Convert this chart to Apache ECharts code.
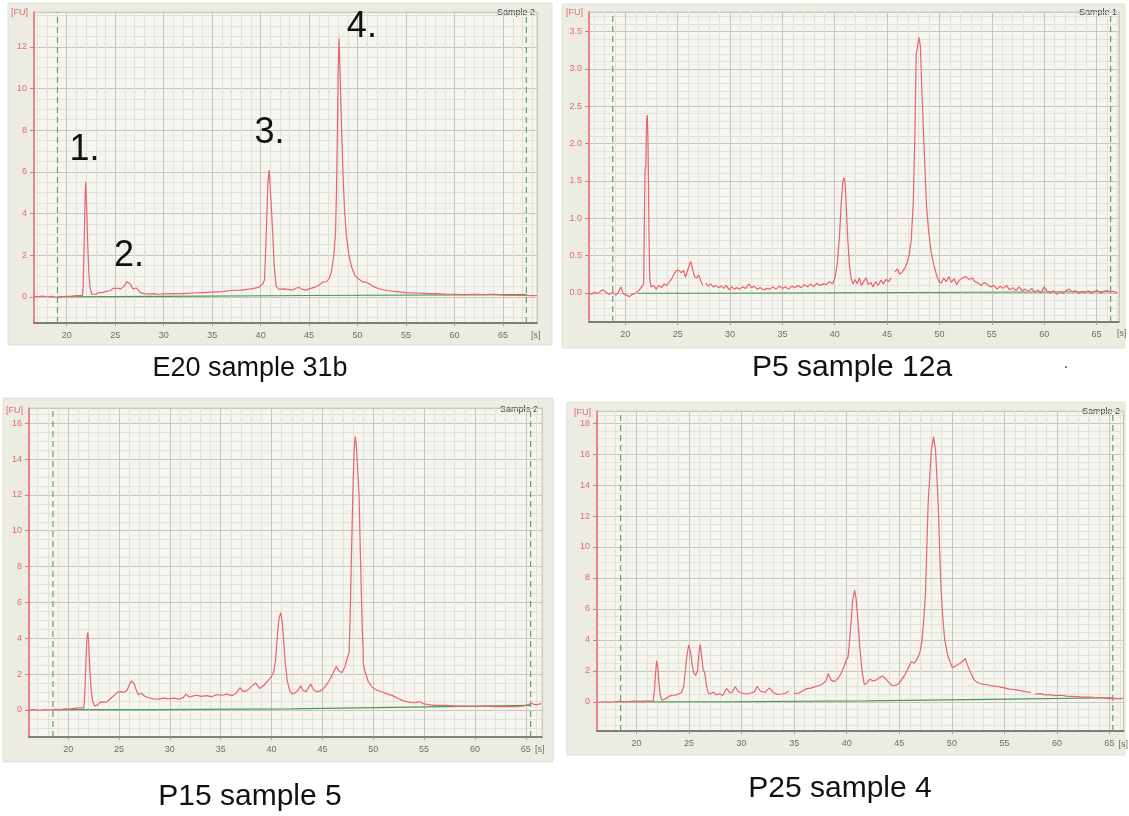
<!DOCTYPE html>
<html>
<head>
<meta charset="utf-8">
<title>Electropherograms</title>
<script src="https://cdn.jsdelivr.net/npm/echarts@6/dist/echarts.min.js"></script>
<style>
html, body { margin: 0; padding: 0; background: #fff; }
#main { width: 1129px; height: 816px; }
</style>
</head>
<body>
<div id="main"></div>
<script>
// ---- values: [time s, FU] ----
var e20Trace = [
  [16.6,0.02],[17.0,0.0],[17.5,0.03],[18.0,0.0],[18.5,0.02],[19.0,-0.03],[19.5,0.0],[20.0,0.02],[20.5,0.03],[21.0,0.05],[21.4,0.05],
  [21.62,0.05],[21.7,0.5],[21.8,2.5],[21.9,4.8],[21.96,5.52],[22.05,4.5],[22.15,2.8],[22.28,1.2],[22.42,0.4],[22.6,0.12],[22.8,0.05],
  [23.0,0.12],[23.3,0.2],[23.7,0.2],[24.0,0.25],[24.5,0.3],[24.8,0.4],[25.0,0.45],[25.3,0.4],[25.6,0.38],[25.9,0.5],[26.2,0.72],
  [26.4,0.75],[26.6,0.6],[26.8,0.38],[27.0,0.35],[27.2,0.42],[27.4,0.3],[27.6,0.2],[28.0,0.15],[28.5,0.13],[29.0,0.15],[29.5,0.12],
  [30.0,0.14],[31.0,0.15],[32.0,0.15],[33.0,0.18],[34.0,0.2],[35.0,0.22],[36.0,0.25],[37.0,0.3],[38.0,0.32],[39.0,0.38],[39.8,0.45],
  [40.2,0.6],[40.4,0.8],[40.58,3.0],[40.75,5.5],[40.88,6.08],[41.05,4.8],[41.25,3.0],[41.4,1.5],[41.6,0.5],[41.9,0.35],[42.3,0.38],
  [42.8,0.35],[43.3,0.32],[43.7,0.42],[44.0,0.45],[44.3,0.35],[44.7,0.32],[45.0,0.38],[45.5,0.45],[46.0,0.55],[46.4,0.7],[46.8,0.72],
  [47.1,0.9],[47.3,1.2],[47.55,2.0],[47.72,3.0],[47.82,5.0],[47.92,8.0],[48.0,11.0],[48.09,12.4],[48.18,11.0],[48.35,8.0],[48.5,5.8],
  [48.65,4.2],[48.83,3.0],[49.1,2.0],[49.4,1.4],[49.75,1.0],[50.1,0.85],[50.6,0.7],[50.9,0.7],[51.2,0.62],[51.6,0.5],[52.0,0.42],
  [52.5,0.35],[53.0,0.3],[54.0,0.25],[55.0,0.2],[56.0,0.18],[57.0,0.16],[58.0,0.15],[59.0,0.13],[60.0,0.12],[61.0,0.1],[62.0,0.12],
  [63.0,0.1],[64.0,0.12],[64.5,0.1],[65.0,0.08],[66.0,0.06],[67.0,0.07],[68.0,0.05],[68.5,0.06]
];
var e20Base = [[19.05,0.0],[30.0,0.02],[45.0,0.06],[67.4,0.1]];
var e20Window = [19.05, 67.4];
var e20Peaks = [['1.',21.84,7.04],['2.',26.42,1.93],['3.',40.92,7.84],['4.',50.44,12.96]];

var p5Trace = [
  [16.55,0.0],[16.8,-0.02],[17.0,0.01],[17.3,-0.01],[17.6,0.02],[17.9,0.04],[18.2,0.0],[18.5,-0.02],[18.8,0.01],[19.1,-0.03],[19.3,0.0],
  [19.58,0.08],[19.8,-0.01],[20.1,-0.03],[20.4,-0.05],[20.7,-0.02],[21.0,0.0],[21.3,0.03],[21.55,0.08],[21.75,0.12],[21.82,1.0],
  [21.88,1.65],[21.96,1.7],[22.03,2.3],[22.1,2.38],[22.17,2.0],[22.25,0.9],[22.33,0.2],[22.45,0.08],[22.7,0.1],[22.95,0.05],[23.2,0.1],
  [23.45,0.07],[23.7,0.12],[23.95,0.1],[24.16,0.14],[24.4,0.18],[24.65,0.25],[24.9,0.3],[25.1,0.3],[25.35,0.27],[25.55,0.3],[25.75,0.21],
  [25.95,0.3],[26.24,0.42],[26.45,0.3],[26.6,0.22],[26.8,0.2],[27.0,0.24],[27.2,0.16],[27.4,0.1],[27.55,'-'],[27.7,0.13],[27.9,0.09],
  [28.15,0.12],[28.4,0.08],[28.65,0.1],[28.9,0.07],[29.15,0.09],[29.4,0.06],[29.65,0.1],[29.9,0.04],[30.15,0.08],[30.4,0.05],[30.65,0.07],
  [30.9,0.05],[31.2,0.08],[31.5,0.06],[31.8,0.12],[32.05,0.07],[32.3,0.09],[32.6,0.05],[32.9,0.07],[33.2,0.04],[33.5,0.06],[33.8,0.05],
  [34.1,0.08],[34.4,0.05],[34.7,0.09],[35.0,0.06],[35.3,0.08],[35.6,0.05],[35.9,0.09],[36.2,0.07],[36.5,0.1],[36.8,0.07],[37.1,0.11],
  [37.4,0.08],[37.7,0.12],[38.0,0.08],[38.3,0.13],[38.6,0.1],[38.9,0.12],[39.2,0.11],[39.5,0.15],[39.8,0.12],[40.05,0.22],[40.25,0.4],
  [40.45,0.75],[40.62,1.2],[40.78,1.5],[40.9,1.54],[41.0,1.45],[41.12,1.1],[41.25,0.7],[41.4,0.38],[41.55,0.2],[41.75,0.12],[41.95,0.18],
  [42.15,0.12],[42.35,0.2],[42.55,0.1],[42.8,0.16],[43.0,0.2],[43.2,0.11],[43.45,0.14],[43.65,0.08],[43.9,0.15],[44.15,0.1],[44.4,0.17],
  [44.65,0.12],[44.9,0.18],[45.15,0.15],[45.4,0.2],[45.6,'-'],[45.75,0.28],[46.0,0.32],[46.2,0.25],[46.45,0.28],[46.7,0.33],[46.9,0.4],
  [47.1,0.5],[47.3,0.7],[47.5,1.2],[47.65,2.1],[47.78,3.2],[47.92,3.2],[48.05,3.42],[48.18,3.3],[48.35,2.6],[48.55,1.9],[48.75,1.2],
  [48.95,0.85],[49.2,0.55],[49.45,0.38],[49.7,0.25],[49.95,0.15],[50.17,0.13],[50.4,0.2],[50.65,0.15],[50.9,0.22],[51.15,0.14],[51.4,0.19],
  [51.65,0.11],[51.9,0.17],[52.2,0.2],[52.5,0.22],[52.8,0.18],[53.1,0.2],[53.4,0.15],[53.7,0.13],[54.0,0.1],[54.3,0.14],[54.6,0.11],
  [54.9,0.08],[55.2,0.1],[55.5,0.05],[55.8,0.09],[56.1,0.06],[56.4,0.1],[56.7,0.04],[57.0,0.07],[57.3,0.03],[57.6,0.08],[57.9,0.03],
  [58.2,0.05],[58.5,0.02],[58.8,0.06],[59.1,0.01],[59.4,0.04],[59.7,0.0],[60.0,0.08],[60.3,0.02],[60.6,0.0],[60.9,0.03],[61.2,-0.02],
  [61.5,0.02],[61.8,-0.01],[62.1,0.03],[62.4,0.05],[62.7,0.01],[63.0,0.03],[63.3,-0.01],[63.6,0.02],[63.9,0.0],[64.2,0.03],[64.5,-0.01],
  [64.8,0.02],[65.1,0.03],[65.4,0.0],[65.7,0.02],[66.0,0.03],[66.3,0.01],[66.6,0.02],[67.0,0.0]
];
var p5Base = [[21.2,-0.005],[26.7,-0.005],[26.7,0.015],[66.35,0.015]];
var p5Window = [18.8, 66.35];

var p15Trace = [
  [16.2,0.0],[16.7,0.02],[17.2,-0.02],[17.7,0.02],[18.2,0.0],[18.7,0.03],[19.2,0.02],[19.7,0.06],[20.2,0.05],[20.7,0.1],[21.2,0.12],
  [21.55,0.12],[21.65,1.0],[21.75,2.8],[21.85,4.0],[21.93,4.32],[22.02,3.8],[22.12,2.4],[22.25,1.2],[22.4,0.5],[22.6,0.22],[22.9,0.28],
  [23.2,0.45],[23.5,0.42],[23.8,0.45],[24.1,0.6],[24.5,0.8],[24.9,1.0],[25.2,1.02],[25.5,0.98],[25.8,1.1],[26.0,1.4],[26.2,1.62],
  [26.35,1.7],[26.5,1.45],[26.7,1.1],[26.9,0.85],[27.2,0.93],[27.5,0.78],[27.9,0.68],[28.4,0.62],[28.9,0.6],[29.4,0.66],[29.9,0.62],
  [30.4,0.66],[30.9,0.6],[31.3,0.68],[31.6,0.88],[31.9,0.72],[32.3,0.78],[32.7,0.82],[33.1,0.76],[33.6,0.8],[34.1,0.74],[34.6,0.86],
  [35.1,0.82],[35.6,0.88],[36.1,0.8],[36.5,0.92],[36.9,1.25],[37.2,1.02],[37.6,1.08],[38.0,1.3],[38.45,1.5],[38.8,1.2],[39.2,1.35],
  [39.6,1.6],[39.9,1.8],[40.2,2.1],[40.4,2.8],[40.55,4.0],[40.72,5.1],[40.9,5.43],[41.05,4.9],[41.2,3.8],[41.35,2.6],[41.55,1.6],
  [41.8,1.05],[42.0,0.9],[42.3,0.95],[42.6,1.1],[42.85,1.34],[43.1,1.1],[43.4,1.02],[43.84,1.45],[44.1,1.15],[44.4,1.02],[44.7,1.05],
  [45.0,1.12],[45.4,1.4],[45.7,1.67],[46.0,2.0],[46.37,2.42],[46.6,2.2],[46.9,2.08],[47.2,2.4],[47.45,2.9],[47.62,3.2],[47.72,5.0],
  [47.85,8.5],[48.0,12.3],[48.12,14.5],[48.23,15.25],[48.35,14.7],[48.48,13.2],[48.6,12.0],[48.72,9.0],[48.83,6.5],[48.92,4.5],
  [49.0,3.3],[49.02,2.6],[49.2,2.1],[49.5,1.6],[49.9,1.25],[50.4,1.1],[50.9,1.0],[51.4,0.88],[51.9,0.8],[52.4,0.65],[52.9,0.52],
  [53.4,0.45],[53.9,0.4],[54.3,0.42],[54.6,0.47],[54.9,0.35],[55.4,0.3],[56.0,0.26],[57.0,0.25],[58.0,0.23],[59.0,0.22],[60.0,0.2],
  [61.0,0.21],[62.0,0.19],[63.0,0.2],[64.0,0.18],[64.8,0.22],[65.2,0.3],[65.6,0.36],[66.0,0.28],[66.5,0.35]
];
var p15Base = [[18.5,0.02],[28.4,0.02],[28.5,0.06],[41.9,0.06],[42.0,0.17],[55.3,0.17],[55.4,0.26],[65.47,0.26]];
var p15Window = [18.5, 65.47];

var p25Trace = [
  [16.25,-0.05],[16.8,0.0],[17.3,-0.02],[17.8,0.0],[18.3,0.02],[18.8,0.0],[19.3,0.02],[19.8,0.05],[20.3,0.03],[20.8,0.05],[21.3,0.04],
  [21.6,0.06],[21.72,0.8],[21.82,1.8],[21.92,2.65],[22.02,2.3],[22.12,1.4],[22.25,0.5],[22.4,0.1],[22.57,0.0],[22.8,0.2],[23.1,0.35],
  [23.4,0.42],[23.7,0.43],[24.0,0.5],[24.3,0.6],[24.5,1.0],[24.65,2.0],[24.8,3.0],[24.97,3.66],[25.12,3.3],[25.3,2.4],[25.45,1.9],
  [25.62,1.7],[25.8,1.95],[25.95,3.2],[26.07,3.7],[26.2,2.9],[26.35,2.1],[26.5,1.85],[26.65,1.1],[26.8,0.6],[27.0,0.5],[27.3,0.62],
  [27.6,0.45],[27.9,0.52],[28.2,0.4],[28.57,0.86],[28.9,0.58],[29.1,0.6],[29.4,0.97],[29.7,0.65],[30.1,0.55],[30.5,0.5],[30.9,0.58],
  [31.2,0.62],[31.49,1.0],[31.8,0.68],[32.2,0.6],[32.65,0.9],[33.0,0.6],[33.4,0.48],[33.8,0.5],[34.2,0.55],[34.47,0.7],[34.7,'-'],
  [34.98,0.54],[35.4,0.55],[35.8,0.7],[36.2,0.85],[36.6,0.88],[37.0,0.98],[37.4,1.05],[37.8,1.2],[38.05,1.4],[38.24,1.83],[38.5,1.4],
  [38.8,1.3],[39.1,1.45],[39.4,1.75],[39.7,2.2],[39.9,2.6],[40.13,2.9],[40.28,4.0],[40.4,5.0],[40.55,6.5],[40.75,7.22],[40.9,6.6],
  [41.09,5.0],[41.25,3.5],[41.45,2.0],[41.67,1.1],[41.9,1.2],[42.2,1.45],[42.5,1.35],[42.8,1.4],[43.1,1.55],[43.39,1.66],[43.7,1.5],
  [44.0,1.25],[44.3,1.05],[44.6,1.05],[44.9,1.15],[45.2,1.4],[45.5,1.7],[45.8,2.1],[46.13,2.59],[46.4,2.5],[46.6,2.65],[46.8,2.9],
  [47.0,3.3],[47.16,4.0],[47.35,5.5],[47.5,7.2],[47.62,10.0],[47.74,12.8],[47.9,14.6],[48.05,16.3],[48.26,17.13],[48.45,16.2],
  [48.6,14.2],[48.7,12.8],[48.85,9.5],[48.98,7.2],[49.15,5.3],[49.32,4.0],[49.6,3.0],[49.9,2.45],[50.05,2.2],[50.3,2.3],[50.7,2.45],
  [51.0,2.6],[51.28,2.8],[51.5,2.35],[51.8,1.85],[52.1,1.45],[52.4,1.25],[52.7,1.18],[53.0,1.12],[53.4,1.1],[53.8,1.02],[54.2,1.0],
  [54.6,0.95],[55.0,0.9],[55.5,0.82],[56.0,0.78],[56.5,0.72],[57.0,0.65],[57.5,0.6],[57.7,'-'],[57.9,0.5],[58.4,0.52],[58.9,0.45],
  [59.4,0.45],[59.9,0.4],[60.4,0.42],[60.9,0.36],[61.4,0.35],[61.9,0.33],[62.4,0.3],[62.9,0.3],[63.4,0.28],[63.9,0.26],[64.4,0.25],
  [64.9,0.2],[65.4,0.22],[65.9,0.2],[66.3,0.22]
];
var p25Base = [[18.5,0.0],[28.4,0.0],[28.5,0.06],[41.9,0.06],[42.0,0.17],[55.3,0.17],[55.4,0.26],[65.3,0.26]];
var p25Window = [18.5, 65.3];

var captions = ['E20 sample 31b', 'P5 sample 12a', 'P15 sample 5', 'P25 sample 4'];
var sampleTags = ['Sample 2', 'Sample 1', 'Sample 2', 'Sample 2'];

// ---- layout of the four panels (pixels) ----
var panels = [
  { grid: {left: 34, top: 12, width: 503, height: 311}, x: [16.63, 68.5], y: [-1.26, 13.67], yStep: 2, yMinor: 4, yDec: 0,
    trace: e20Trace, base: e20Base, win: e20Window, fuGap: -1, sGap: -6, sPad: 8,
    bg: [8, 3, 544, 342], cap: [250, 369], capSize: 27, tag: [535, 13] },
  { grid: {left: 589, top: 12, width: 530, height: 310}, x: [16.53, 67.15], y: [-0.39, 3.76], yStep: 0.5, yMinor: 5, yDec: 1,
    trace: p5Trace, base: p5Base, win: p5Window, fuGap: -1, sGap: -2, sPad: 7,
    bg: [562, 4, 563, 344], cap: [852, 368], capSize: 30, tag: [1117, 13] },
  { grid: {left: 29, top: 408, width: 513, height: 329}, x: [16.15, 66.59], y: [-1.51, 16.85], yStep: 2, yMinor: 4, yDec: 0,
    trace: p15Trace, base: p15Base, win: p15Window, fuGap: -3, sGap: -7, sPad: 8,
    bg: [3, 398, 550, 364], cap: [250, 797], capSize: 30, tag: [538, 410] },
  { grid: {left: 597, top: 411, width: 527, height: 320}, x: [16.25, 66.34], y: [-1.89, 18.79], yStep: 2, yMinor: 4, yDec: 0,
    trace: p25Trace, base: p25Base, win: p25Window, fuGap: -2, sGap: -7, sPad: 9,
    bg: [567, 402, 558, 353], cap: [840, 789], capSize: 30, tag: [1120, 412] }
];

var RED = '#e8646e';
var AXIS_RED = '#ee6b7b';
var GREEN = '#4a9a55';
var DASH_GREEN = '#5aaa68';
var FONT = 'Liberation Sans, Arial, sans-serif';

var grids = [], xAxes = [], yAxes = [], series = [], graphics = [];

panels.forEach(function (p, i) {
  grids.push({
    left: p.grid.left, top: p.grid.top, width: p.grid.width, height: p.grid.height,
    show: true, backgroundColor: '#f5f4ee', borderColor: '#d6d5cb', borderWidth: 1
  });
  xAxes.push({
    type: 'value', gridIndex: i, min: p.x[0], max: p.x[1], minInterval: 5, maxInterval: 5,
    axisLine: {show: true, onZero: false, lineStyle: {color: '#5f5f5f', width: 1.5}},
    axisTick: {show: true, length: 3, lineStyle: {color: '#a0a0a0'}},
    axisLabel: {color: '#6c6c6c', fontSize: 9, fontFamily: FONT, margin: 8, showMinLabel: false, showMaxLabel: false},
    splitLine: {show: true, lineStyle: {color: '#c6c6be', width: 1}},
    minorTick: {show: false, splitNumber: 5},
    minorSplitLine: {show: true, lineStyle: {color: '#e3e2d9', width: 1}},
    name: '[s]', nameLocation: 'end', nameGap: p.sGap,
    nameTextStyle: {color: '#6c6c6c', fontSize: 9, fontFamily: FONT, align: 'left', verticalAlign: 'top', padding: [p.sPad, 0, 0, 0]}
  });
  yAxes.push({
    type: 'value', gridIndex: i, min: p.y[0], max: p.y[1], minInterval: p.yStep, maxInterval: p.yStep,
    axisLine: {show: true, onZero: false, lineStyle: {color: AXIS_RED, width: 1.5}},
    axisTick: {show: true, length: 4, lineStyle: {color: AXIS_RED}},
    axisLabel: {color: '#e0697a', fontSize: 9, fontFamily: FONT, margin: 7, showMinLabel: false, showMaxLabel: false,
      formatter: (function (d) { return function (v) { return v.toFixed(d); }; })(p.yDec)},
    splitLine: {show: true, lineStyle: {color: '#c6c6be', width: 1}},
    minorTick: {show: false, splitNumber: p.yMinor},
    minorSplitLine: {show: true, lineStyle: {color: '#e3e2d9', width: 1}},
    name: '[FU]', nameLocation: 'end', nameGap: p.fuGap,
    nameTextStyle: {color: '#e0697a', fontSize: 9, fontFamily: FONT, align: 'right', verticalAlign: 'middle', padding: [0, 6, 0, 0]}
  });

  // dashed analysis window: two vertical segments spanning the y range
  series.push({
    type: 'line', xAxisIndex: i, yAxisIndex: i, symbol: 'none', z: 1, silent: true, connectNulls: false,
    data: [[p.win[0], p.y[0]], [p.win[0], p.y[1]], [p.win[0], '-'], [p.win[1], p.y[0]], [p.win[1], p.y[1]]],
    lineStyle: {color: DASH_GREEN, type: [6, 4], width: 1.2}
  });

  // green baseline
  series.push({
    type: 'line', xAxisIndex: i, yAxisIndex: i, data: p.base, symbol: 'none', z: 2,
    lineStyle: {color: GREEN, width: 1.2}, silent: true
  });

  var red = {
    type: 'line', xAxisIndex: i, yAxisIndex: i, data: p.trace, symbol: 'none', z: 3,
    connectNulls: false, lineStyle: {color: RED, width: 1.2}
  };
  if (i === 0) {
    red.markPoint = {
      symbol: 'circle', symbolSize: 1, itemStyle: {color: 'rgba(0,0,0,0)'},
      label: {show: true, position: 'inside', color: '#111', fontSize: 36, fontFamily: FONT,
        formatter: function (d) { return d.name; }},
      data: e20Peaks.map(function (pk) { return {name: pk[0], coord: [pk[1], pk[2]]}; })
    };
  }
  series.push(red);

  graphics.push({
    type: 'rect', z: -10, shape: {x: p.bg[0], y: p.bg[1], width: p.bg[2], height: p.bg[3]},
    style: {fill: '#edece3', stroke: '#e1e0d6', lineWidth: 1}
  });
  graphics.push({
    type: 'text', x: p.tag[0], y: p.tag[1],
    style: {text: sampleTags[i], fill: '#3a3a3a', font: '9px ' + FONT, textAlign: 'right', verticalAlign: 'middle'}
  });
  graphics.push({
    type: 'text', x: p.cap[0], y: p.cap[1],
    style: {text: captions[i], fill: '#111', font: p.capSize + 'px ' + FONT, textAlign: 'center', verticalAlign: 'middle'}
  });
});

graphics.push({type: 'circle', shape: {cx: 1066, cy: 367, r: 1}, style: {fill: '#555'}});

var myChart = echarts.init(document.getElementById('main'));
myChart.setOption({
  animation: false,
  backgroundColor: '#ffffff',
  grid: grids,
  xAxis: xAxes,
  yAxis: yAxes,
  series: series,
  graphic: graphics
});
</script>
</body>
</html>
